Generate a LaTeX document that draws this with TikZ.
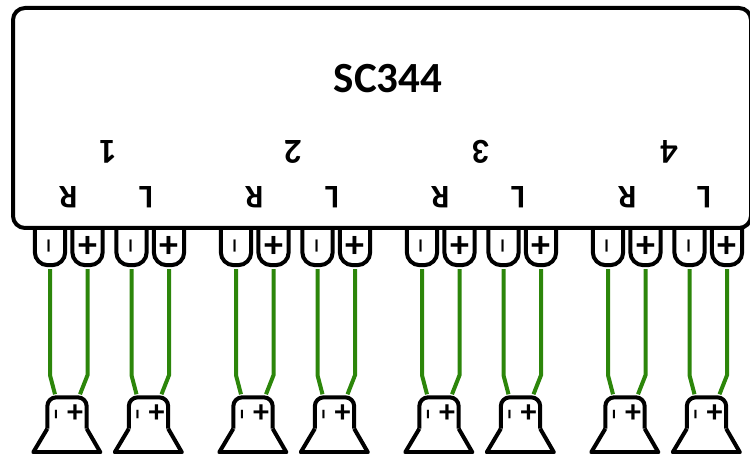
\documentclass[tikz,border=0pt]{standalone}
\usepackage{fontspec}
\setmainfont{Carlito}
\tikzset{
  every node/.style={font=\bfseries},
  unit/.style={draw, line width=4pt, rounded corners=12pt, minimum width=738pt, minimum height=220pt, inner sep=0pt},
  outline/.style={line width=4pt, line join=round},
  term/.style={minimum width=30pt, minimum height=37pt, inner sep=0pt, font=\bfseries\fontsize{38}{38}\selectfont},
  spk/.style={minimum width=39pt, minimum height=31pt, inner sep=0pt},
  wire/.style={line width=4pt, draw={rgb,255:red,44;green,134;blue,10}},
  chan/.style={rotate=180, font=\bfseries\fontsize{35}{35}\selectfont},
  side/.style={rotate=180, font=\bfseries\fontsize{33}{33}\selectfont},
  minus/.style={rotate=90, inner sep=0pt, font=\fontsize{34}{34}\selectfont},
  smallminus/.style={rotate=90, inner sep=0pt, font=\bfseries\fontsize{24}{24}\selectfont},
  smallplus/.style={inner sep=0pt, font=\bfseries\fontsize{32}{32}\selectfont}
}
\begin{document}
\begin{tikzpicture}[x=1pt, y=-1pt]
  \clip (0,0) rectangle (750,454);
  % terminals, wires and speakers
  \foreach \g in {1,2,3,4} {
    \foreach \k/\dx in {a/0, b/81.5} {
      \pgfmathsetmacro{\xa}{50+(\g-1)*186+\dx}
      \pgfmathsetmacro{\xb}{\xa+37.5}
      \pgfmathsetmacro{\xs}{\xa+17}
      \node (neg\g\k) [term] at (\xa,246.5) {};
      \node (pos\g\k) [term] at (\xb,246.5) {+};
      \node [minus] (negtxt\g\k) at (\xa+3.5,246.5) {–};
      \draw[outline, rounded corners=13pt] (neg\g\k.north west) -- (neg\g\k.south west) -- (neg\g\k.south east) -- (neg\g\k.north east);
      \draw[outline, rounded corners=13pt] (pos\g\k.north west) -- (pos\g\k.south west) -- (pos\g\k.south east) -- (pos\g\k.north east);
      \node (sp\g\k) [spk] at (\xs,413) {};
      \node [smallminus] (spneg\g\k) at (\xs-8,415) {–};
      \node [smallplus] (sppos\g\k) at (\xs+8,414) {+};
      \draw[outline, rounded corners=9pt] (sp\g\k.south west) -- (sp\g\k.north west) -- (sp\g\k.north east) -- (sp\g\k.south east);
      \draw[outline] (sp\g\k.south west) -- ++(-14,23.5) -- ++(67,0) -- (sp\g\k.south east);
      \draw[wire] ([yshift=-4pt]neg\g\k.south) -- ++(0,106) -- ([xshift=-12pt, yshift=3pt]sp\g\k.north);
      \draw[wire] ([yshift=-4pt]pos\g\k.south) -- ++(0,106) -- ([xshift=13pt, yshift=3pt]sp\g\k.north);
    }
  }
  % the unit
  \node (sc) [unit, fill=white] at (382,118) {};
  \node (title) [font=\bfseries\fontsize{43}{43}\selectfont] at (388,79) {SC344};
  \foreach \n/\xn/\xr/\xl in {1/108/68/146, 2/293/254/332, 3/481/440/518, 4/669/627/704} {
    \node (chan\n) [chan] at (\xn,152) {\n};
    \node (r\n) [side] at (\xr,197) {R};
    \node (l\n) [side] at (\xl,197) {L};
  }
\end{tikzpicture}
\end{document}
